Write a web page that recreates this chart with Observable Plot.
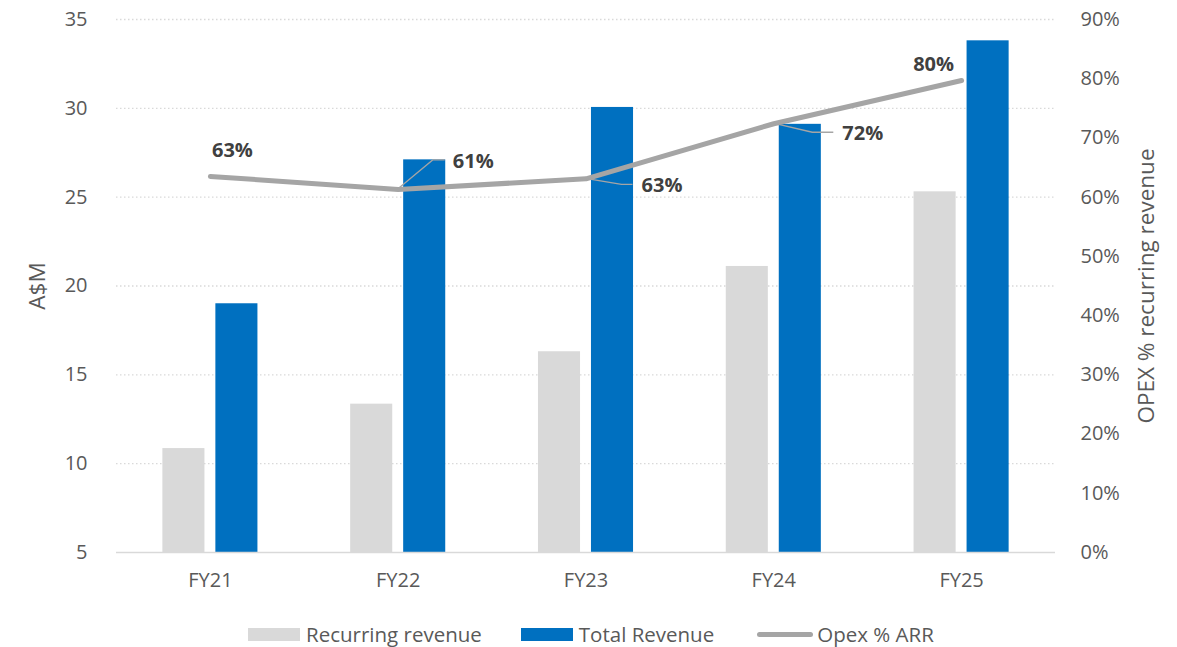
<!DOCTYPE html>
<html>
<head>
<meta charset="utf-8">
<script src="https://cdn.jsdelivr.net/npm/d3@7"></script>
<script src="https://cdn.jsdelivr.net/npm/@observablehq/plot@0.6"></script>
<style>
  html, body { margin: 0; padding: 0; background: #fff; }
  body { width: 1177px; height: 647px; overflow: hidden; font-family: "Open Sans", sans-serif; }
  #legend { display: flex; align-items: center; height: 22px; margin-top: 3px; padding-left: 248px; font-size: 20.5px; color: #595959; line-height: 22px; }
  .item { display: flex; align-items: center; white-space: nowrap; }
  .sw { display: inline-block; width: 52px; height: 13px; margin-right: 6px; }
  .ln { display: inline-block; width: 56px; height: 5px; border-radius: 3px; margin-right: 4px; background: #a5a5a5; }
</style>
</head>
<body>
<div id="chart"></div>
<div id="legend"></div>
<script>
// ---- data ----
const years = ["FY21", "FY22", "FY23", "FY24", "FY25"];
const recurringRevenue = [10.85, 13.35, 16.3, 21.1, 25.3];
const totalRevenue = [19.0, 27.1, 30.05, 29.1, 33.8];
const opexPct = [63.5, 61.3, 63.1, 72.4, 79.7];
const opexLabels = ["63%", "61%", "63%", "72%", "80%"];
const leftTicks = [5, 10, 15, 20, 25, 30, 35];
const rightTicks = [0, 10, 20, 30, 40, 50, 60, 70, 80, 90];
const seriesNames = ["Recurring revenue", "Total Revenue", "Opex % ARR"];
const seriesColors = ["#d9d9d9", "#0070c0", "#a5a5a5"];

// label placement (pixel offsets from the line point) and leader lines
const labelDx = [22, 75, 76, 89, -28];
const labelDy = [-26, -28, 7, 10, -16];
const leaderMid = [null, [35, -29], [36, 6], [39, 9], null];
const leaderEnd = [null, [47, -29], [47, 6], [60, 9], null];
const legendGaps = [39, 43, 0];

// map percentage (right axis) onto left axis units: 0% -> 5, 90% -> 35
const pctToLeft = p => 5 + p / 3;

const rows = years.map((y, i) => ({
  year: y, rec: recurringRevenue[i], tot: totalRevenue[i],
  pct: opexPct[i], label: opexLabels[i], i
}));

const labelMarks = rows.map(r => Plot.text([r], {
  x: "year", y: d => pctToLeft(d.pct), text: "label",
  dx: labelDx[r.i], dy: labelDy[r.i],
  fill: "#404040", fontWeight: "bold", fontSize: 20
}));

const leaderRows = rows.filter(r => leaderMid[r.i]);
const leaderMark = Plot.dot(leaderRows, {
  x: "year", y: d => pctToLeft(d.pct), r: 0,
  render(index, scales, values) {
    let bw = 0;
    const bx = scales.x && scales.x.bandwidth;
    if (typeof bx === "function") bw = bx(); else if (typeof bx === "number") bw = bx;
    const g = d3.create("svg:g");
    for (const i of index) {
      const x = values.x[i] + bw / 2, y = values.y[i];
      const d = leaderRows[i], m = leaderMid[d.i], e = leaderEnd[d.i];
      g.append("path")
        .attr("d", `M${x},${y}L${x + m[0]},${y + m[1]}L${x + e[0]},${y + e[1]}`)
        .attr("fill", "none").attr("stroke", "#a5a5a5").attr("stroke-width", 1.3);
    }
    return g.node();
  }
});

const chart = Plot.plot({
  width: 1177,
  height: 620,
  marginLeft: 116,
  marginRight: 122,
  marginTop: 19,
  marginBottom: 68,
  style: { fontFamily: "Open Sans", fontSize: "20px", color: "#595959", background: "white" },
  x: { domain: years, paddingInner: 0.776, paddingOuter: 0.388, round: false, axis: null },
  y: { domain: [5, 35], axis: null },
  marks: [
    Plot.gridY(leftTicks.filter(t => t > 5), { stroke: "#d9d9d9", strokeOpacity: 1, strokeWidth: 1.3, strokeDasharray: "1.5,2.5" }),
    Plot.barY(rows, { x: "year", y1: 5, y2: "rec", fill: seriesColors[0], dx: -26.5 }),
    Plot.barY(rows, { x: "year", y1: 5, y2: "tot", fill: seriesColors[1], dx: 26.5 }),
    Plot.ruleY([5], { stroke: "#d9d9d9", strokeWidth: 1.6 }),
    Plot.axisX({ tickSize: 0, tickPadding: 20, label: null, fontSize: 20 }),
    Plot.axisY(leftTicks, { anchor: "left", tickSize: 0, tickPadding: 29, label: null, fontSize: 20 }),
    Plot.axisY(rightTicks.map(pctToLeft), {
      anchor: "right", tickSize: 0, tickPadding: 25, label: null, fontSize: 20,
      tickFormat: d => Math.round((d - 5) * 3) + "%"
    }),
    Plot.text(["A$M"], { y: () => 20, frameAnchor: "left", textAnchor: "middle", dx: -79, rotate: -90, fontSize: 22.5, fill: "#595959" }),
    Plot.text(["OPEX % recurring revenue"], { y: () => 20, frameAnchor: "right", textAnchor: "middle", dx: 91, rotate: -90, fontSize: 22.5, fill: "#595959" }),
    Plot.line(rows, { x: "year", y: d => pctToLeft(d.pct), stroke: seriesColors[2], strokeWidth: 5, strokeLinecap: "round", strokeLinejoin: "round" }),
    leaderMark,
    ...labelMarks
  ]
});
document.getElementById("chart").appendChild(chart);

// legend
const legend = document.getElementById("legend");
seriesNames.forEach((name, i) => {
  const item = document.createElement("div");
  item.className = "item";
  item.style.marginRight = legendGaps[i] + "px";
  const sw = document.createElement("span");
  if (i < 2) { sw.className = "sw"; sw.style.background = seriesColors[i]; }
  else { sw.className = "ln"; }
  item.appendChild(sw);
  const t = document.createElement("span");
  t.textContent = name;
  item.appendChild(t);
  legend.appendChild(item);
});
</script>
</body>
</html>
